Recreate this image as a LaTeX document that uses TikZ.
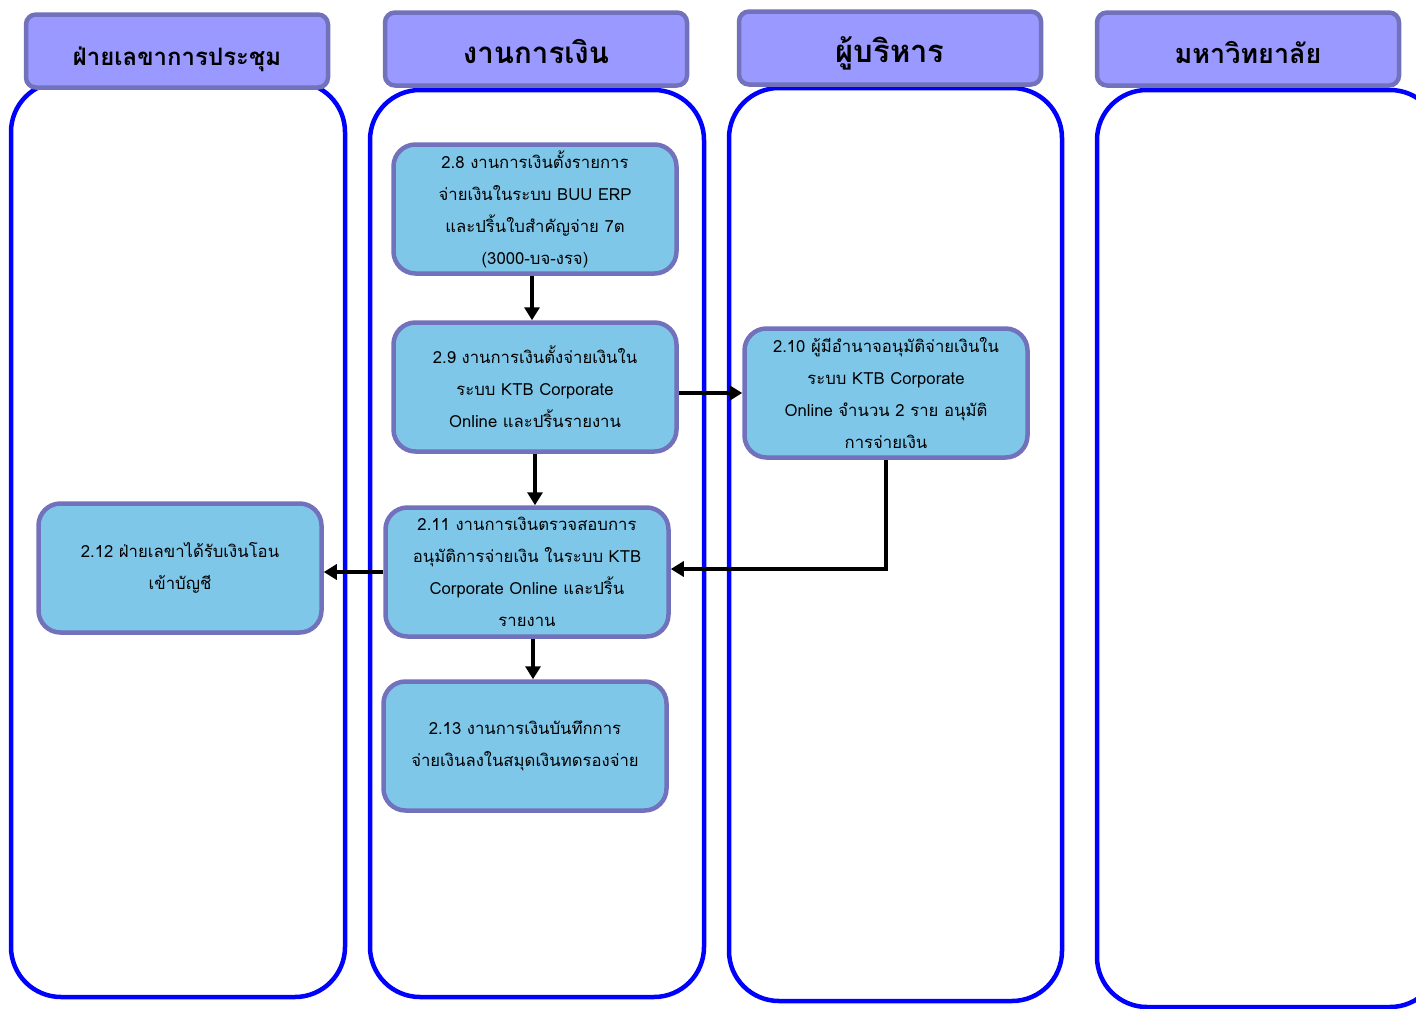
\documentclass[tikz,border=0pt]{standalone}
\usepackage{fontspec}
\newfontfamily\thaifont[Script=Thai]{Loma}
\usetikzlibrary{arrows.meta}
\definecolor{laneblue}{HTML}{0000FF}
\definecolor{hdrfill}{HTML}{9999FF}
\definecolor{hdrdraw}{HTML}{7171BC}
\definecolor{boxfill}{HTML}{7FC7E9}
\begin{document}
\begin{tikzpicture}[x=1pt,y=-1pt,
 lane/.style={draw=laneblue,line width=4.5pt,rounded corners=50pt},
 header/.style={draw=hdrdraw,fill=hdrfill,line width=4.5pt,rounded corners=10pt,minimum width=302pt,minimum height=73pt,inner ysep=0pt,text height=34pt,text depth=6pt,font=\thaifont\bfseries\fontsize{24}{28}\selectfont},
 stepbox/.style={draw=hdrdraw,fill=boxfill,line width=4.5pt,rounded corners=22pt,minimum width=283pt,minimum height=129pt,align=center,inner sep=0pt,font=\thaifont\fontsize{16.7}{32}\selectfont},
 flow/.style={-{Triangle[length=13pt,width=15pt]},line width=4pt,black}]
\useasboundingbox (0,0) rectangle (1416,1009);
\clip (0,0) rectangle (1416,1009);
% lanes
\draw[lane] (11,82) rectangle (345,997);
\draw[lane] (370,90) rectangle (704,997);
\draw[lane] (729,88) rectangle (1062,1001);
\draw[lane] (1097,90) rectangle (1440,1007);
% headers
\node[header] (h1) at (177,51) {ฝ่ายเลขาการประชุม};
\node[header,font=\thaifont\bfseries\fontsize{29.5}{32}\selectfont] (h2) at (536,49) {งานการเงิน};
\node[header,font=\thaifont\bfseries\fontsize{31}{32}\selectfont] (h3) at (890,48) {ผู้บริหาร};
\node[header,font=\thaifont\bfseries\fontsize{27}{30}\selectfont] (h4) at (1248,49) {มหาวิทยาลัย};
% steps
\node[stepbox] (b28) at (535,209) {2.8 งานการเงินตั้งรายการ\\จ่ายเงินในระบบ BUU ERP\\และปริ้นใบสำคัญจ่าย 7ต\\(3000-บจ-งรจ)};
\node[stepbox] (b29) at (535,387) {2.9 งานการเงินตั้งจ่ายเงินใน\\ระบบ KTB Corporate\\Online และปริ้นรายงาน};
\node[stepbox] (b210) at (886,393) {2.10 ผู้มีอำนาจอนุมัติจ่ายเงินใน\\ระบบ KTB Corporate\\Online จำนวน 2 ราย อนุมัติ\\การจ่ายเงิน};
\node[stepbox] (b211) at (527,572) {2.11 งานการเงินตรวจสอบการ\\อนุมัติการจ่ายเงิน ในระบบ KTB\\Corporate Online และปริ้น\\รายงาน};
\node[stepbox] (b212) at (180,568) {2.12 ฝ่ายเลขาได้รับเงินโอน\\เข้าบัญชี};
\node[stepbox] (b213) at (525,746) {2.13 งานการเงินบันทึกการ\\จ่ายเงินลงในสมุดเงินทดรองจ่าย};
% connectors
\draw[flow] ([xshift=-3pt]b28.south) -- ([xshift=-3pt]b28.south |- b29.north);
\draw[flow] (b29.east |- b210) -- (b210.west);
\draw[flow] (b29.south) -- (b29.south |- b211.north);
\draw[flow] (b210.south) |- ([yshift=3pt]b211.east);
\draw[flow] (b211.west) -- (b211.west -| b212.east);
\draw[flow] ([xshift=6pt]b211.south) -- ([xshift=6pt]b211.south |- b213.north);
\end{tikzpicture}
\end{document}
